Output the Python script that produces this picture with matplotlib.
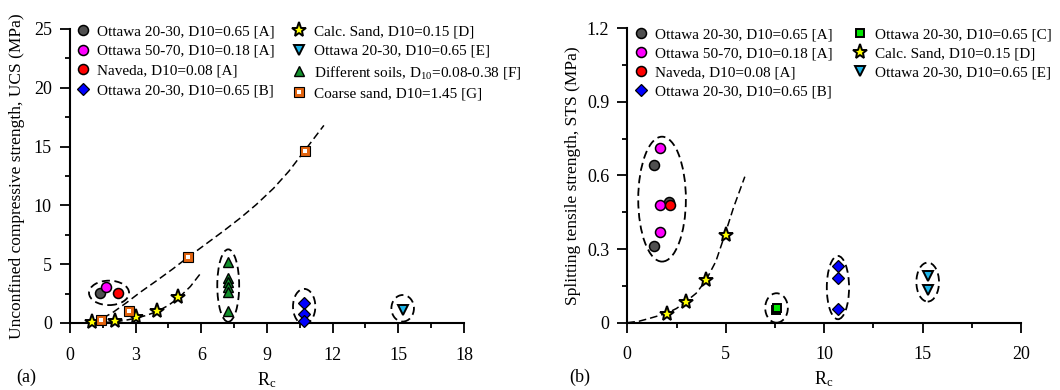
import matplotlib
matplotlib.use("Agg")
import matplotlib.pyplot as plt
import numpy as np
from matplotlib.lines import Line2D
from matplotlib.patches import Ellipse

# ---------------- (a) UCS vs Rc ----------------
a_ott2030_A_rc = [1.37]
a_ott2030_A_ucs = [2.52]
a_ott5070_A_rc = [1.64]
a_ott5070_A_ucs = [3.03]
a_naveda_A_rc = [2.2]
a_naveda_A_ucs = [2.58]
a_ott2030_B_rc = [10.7, 10.7, 10.7]
a_ott2030_B_ucs = [1.73, 0.74, 0.2]
a_calc_D_rc = [0.99, 2.05, 3.0, 3.96, 4.95]
a_calc_D_ucs = [0.05, 0.2, 0.48, 1.0, 2.24]
a_ott2030_E_rc = [15.2]
a_ott2030_E_ucs = [1.1]
a_soils_F_rc = [7.23, 7.23, 7.23, 7.23, 7.23, 7.23]
a_soils_F_ucs = [5.16, 3.85, 3.46, 3.09, 2.66, 1.02]
a_coarse_G_rc = [1.4, 2.71, 5.4, 10.73]
a_coarse_G_ucs = [0.26, 1.02, 5.64, 14.65]

# trend lines
a_trend_D_rc = [1.0, 1.5, 2.0, 2.5, 3.0, 3.5, 4.0, 4.5, 5.0, 5.5, 6.0]
a_trend_D_ucs = [0.0, 0.03, 0.1, 0.22, 0.4, 0.65, 1.0, 1.5, 2.2, 3.1, 4.3]
a_trend_G_rc = [1.5, 2.0, 2.6, 3.2, 4.0, 4.7, 5.4, 6.2, 7.0, 7.8, 8.5, 9.3, 10.0, 10.7, 11.6]
a_trend_G_ucs = [0.4, 0.95, 1.75, 2.6, 3.65, 4.6, 5.6, 6.7, 7.8, 8.95, 10.05, 11.45, 12.9, 14.6, 16.8]

a_xticks = [0, 3, 6, 9, 12, 15, 18]
a_yticks = [0, 5, 10, 15, 20, 25]
a_yticklabels = ["0", "5", "10", "15", "20", "25"]

# ---------------- (b) STS vs Rc ----------------
b_ott2030_A_rc = [1.37, 1.37, 2.14]
b_ott2030_A_sts = [0.643, 0.313, 0.49]
b_ott5070_A_rc = [1.66, 1.66, 1.66]
b_ott5070_A_sts = [0.711, 0.48, 0.371]
b_naveda_A_rc = [2.16]
b_naveda_A_sts = [0.48]
b_ott2030_B_rc = [10.7, 10.7, 10.7]
b_ott2030_B_sts = [0.231, 0.181, 0.055]
b_ott2030_C_rc = [7.57, 7.59]
b_ott2030_C_sts = [0.05, 0.059]
b_calc_D_rc = [2.0, 2.98, 3.99, 5.0]
b_calc_D_sts = [0.035, 0.086, 0.172, 0.357]
b_ott2030_E_rc = [15.26, 15.26]
b_ott2030_E_sts = [0.19, 0.133]

b_trend_D_rc = [0.0, 0.6, 1.15, 2.0, 2.5, 2.98, 3.5, 3.99, 4.5, 4.95, 5.4, 5.97]
b_trend_D_sts = [0.0, 0.006, 0.018, 0.038, 0.058, 0.086, 0.12, 0.172, 0.25, 0.357, 0.47, 0.595]

b_xticks = [0, 5, 10, 15, 20]
b_yticks = [0, 0.3, 0.6, 0.9, 1.2]
b_yticklabels = ["0", "0.3", "0.6", "0.9", "1.2"]

plt.rcParams["font.family"] = ["Liberation Serif", "DejaVu Serif"]
plt.rcParams["mathtext.fontset"] = "custom"
plt.rcParams["mathtext.rm"] = "Liberation Serif"
plt.rcParams["mathtext.it"] = "Liberation Serif:italic"

GRAY = "#4f4f4f"
MAGENTA = "#ff00ff"
RED = "#ff0000"
BLUE = "#0000ff"
YELLOW = "#ffff00"
CYAN = "#1cb4e8"
DGREEN = "#12902c"
ORANGE = "#e2640f"
LGREEN = "#00e600"

STYLES = {
    "A_gray": dict(marker="o", ms=7.2, mfc=GRAY, mec="k", mew=1.1),
    "A_mag": dict(marker="o", ms=7.2, mfc=MAGENTA, mec="k", mew=1.1),
    "A_red": dict(marker="o", ms=7.2, mfc=RED, mec="k", mew=1.1),
    "B": dict(marker="D", ms=5.8, mfc=BLUE, mec="k", mew=0.9),
    "C": dict(marker="s", ms=6.4, mfc=LGREEN, mec="k", mew=1.4),
    "D": dict(marker="*", ms=11, mfc=YELLOW, mec="k", mew=1.4),
    "E": dict(marker="v", ms=7.4, mfc=CYAN, mec="k", mew=1.4),
    "F": dict(marker="^", ms=7.4, mfc=DGREEN, mec="k", mew=1.0),
    "G": dict(marker="s", ms=7.0, mfc=ORANGE, mec="k", mew=0.8),
    "G_in": dict(marker="s", ms=3.0, mfc="white", mec="none", mew=0),
}


def scatter(ax, xs, ys, key):
    ax.plot(xs, ys, ls="none", clip_on=False, zorder=4, **STYLES[key])


def handle(key):
    return Line2D([], [], ls="none", **STYLES[key])


def trend(ax, xs, ys):
    ax.plot(xs, ys, color="k", lw=1.1, ls=(0, (5, 2.6)), zorder=3)


def ring(ax, xs, ys, pad_x, pad_lo, pad_hi):
    x0, x1 = min(xs), max(xs)
    y0, y1 = min(ys) - pad_lo, max(ys) + pad_hi
    e = Ellipse(((x0 + x1) / 2, (y0 + y1) / 2), x1 - x0 + pad_x, y1 - y0,
                fill=False, ec="k", lw=1.3, ls=(0, (4.5, 2.5)), zorder=3,
                clip_on=False)
    ax.add_patch(e)


def style_axes(ax, xticks, yticks, yticklabels):
    for side in ("top", "right"):
        ax.spines[side].set_visible(False)
    for side in ("left", "bottom"):
        ax.spines[side].set_linewidth(1.5)
    ax.set_xlim(xticks[0], xticks[-1])
    ax.set_ylim(yticks[0], yticks[-1])
    ax.set_xticks(xticks)
    ax.set_xticklabels([str(t) for t in xticks])
    ax.set_yticks(yticks)
    ax.set_yticklabels(yticklabels)
    xs, ys = xticks[1] - xticks[0], yticks[1] - yticks[0]
    ax.set_xticks(np.array(xticks[:-1]) + xs / 2, minor=True)
    ax.set_yticks(np.array(yticks[:-1]) + ys / 2, minor=True)
    ax.tick_params(which="major", length=7, width=1.3, labelsize=13)
    ax.tick_params(which="minor", length=3.5, width=1.3)
    ax.tick_params(axis="x", which="major", pad=10)
    ax.tick_params(axis="y", which="major", pad=6)
    ax.set_xlabel("R$_\\mathrm{c}$", fontsize=13)
    ax.xaxis.set_label_coords(0.5, -0.16)


fig = plt.figure(figsize=(10.6, 3.9), dpi=100)
ax_a = fig.add_axes([0.066, 0.1718, 0.3717, 0.754])
ax_b = fig.add_axes([0.5918, 0.1726, 0.3714, 0.755])

# ---- panel (a)
trend(ax_a, a_trend_D_rc, a_trend_D_ucs)
trend(ax_a, a_trend_G_rc, a_trend_G_ucs)
scatter(ax_a, a_ott2030_A_rc, a_ott2030_A_ucs, "A_gray")
scatter(ax_a, a_ott5070_A_rc, a_ott5070_A_ucs, "A_mag")
scatter(ax_a, a_naveda_A_rc, a_naveda_A_ucs, "A_red")
scatter(ax_a, a_ott2030_B_rc, a_ott2030_B_ucs, "B")
scatter(ax_a, a_calc_D_rc, a_calc_D_ucs, "D")
scatter(ax_a, a_ott2030_E_rc, a_ott2030_E_ucs, "E")
scatter(ax_a, a_soils_F_rc, a_soils_F_ucs, "F")
scatter(ax_a, a_coarse_G_rc, a_coarse_G_ucs, "G")
scatter(ax_a, a_coarse_G_rc, a_coarse_G_ucs, "G_in")

ring(ax_a, a_ott2030_A_rc + a_ott5070_A_rc + a_naveda_A_rc,
     a_ott2030_A_ucs + a_ott5070_A_ucs + a_naveda_A_ucs, 1.0, 1.0, 0.57)
ring(ax_a, a_soils_F_rc, a_soils_F_ucs, 1.0, 0.92, 1.1)
ring(ax_a, a_ott2030_B_rc, a_ott2030_B_ucs, 1.02, 0.3, 1.17)
ring(ax_a, a_ott2030_E_rc, a_ott2030_E_ucs, 1.03, 0.98, 1.28)

style_axes(ax_a, a_xticks, a_yticks, a_yticklabels)
ax_a.set_ylabel("Unconfined compressive strength, UCS (MPa)", fontsize=12.5)
ax_a.yaxis.set_label_coords(-0.115, 0.5)

handles_a = [handle("A_gray"), handle("A_mag"), handle("A_red"), handle("B"),
             handle("D"), handle("E"), handle("F"),
             (handle("G"), handle("G_in"))]
labels_a = ["Ottawa 20-30, D10=0.65 [A]", "Ottawa 50-70, D10=0.18 [A]",
            "Naveda, D10=0.08 [A]", "Ottawa 20-30, D10=0.65 [B]",
            "Calc. Sand, D10=0.15 [D]", "Ottawa 20-30, D10=0.65 [E]",
            "Different soils, D$_{10}$=0.08-0.38 [F]", "Coarse sand, D10=1.45 [G]"]
ax_a.legend(handles_a, labels_a, ncol=2, loc="upper left",
            bbox_to_anchor=(0.013, 1.015), frameon=False, fontsize=11,
            borderpad=0, borderaxespad=0, handlelength=1.0, handletextpad=0.45,
            columnspacing=1.1, labelspacing=0.39)

# ---- panel (b)
trend(ax_b, b_trend_D_rc, b_trend_D_sts)
scatter(ax_b, b_ott2030_A_rc, b_ott2030_A_sts, "A_gray")
scatter(ax_b, b_ott5070_A_rc, b_ott5070_A_sts, "A_mag")
scatter(ax_b, b_naveda_A_rc, b_naveda_A_sts, "A_red")
scatter(ax_b, b_ott2030_B_rc, b_ott2030_B_sts, "B")
scatter(ax_b, b_ott2030_C_rc, b_ott2030_C_sts, "C")
scatter(ax_b, b_calc_D_rc, b_calc_D_sts, "D")
scatter(ax_b, b_ott2030_E_rc, b_ott2030_E_sts, "E")

ring(ax_b, b_ott2030_A_rc + b_ott5070_A_rc + b_naveda_A_rc,
     b_ott2030_A_sts + b_ott5070_A_sts + b_naveda_A_sts, 1.63, 0.064, 0.047)
ring(ax_b, b_ott2030_C_rc, b_ott2030_C_sts, 1.13, 0.05, 0.061)
ring(ax_b, b_ott2030_B_rc, b_ott2030_B_sts, 1.13, 0.041, 0.041)
ring(ax_b, b_ott2030_E_rc, b_ott2030_E_sts, 1.15, 0.047, 0.055)

style_axes(ax_b, b_xticks, b_yticks, b_yticklabels)
ax_b.set_ylabel("Splitting tensile strength, STS (MPa)", fontsize=12.5)
ax_b.yaxis.set_label_coords(-0.118, 0.5)

handles_b = [handle("A_gray"), handle("A_mag"), handle("A_red"), handle("B"),
             handle("C"), handle("D"), handle("E")]
labels_b = ["Ottawa 20-30, D10=0.65 [A]", "Ottawa 50-70, D10=0.18 [A]",
            "Naveda, D10=0.08 [A]", "Ottawa 20-30, D10=0.65 [B]",
            "Ottawa 20-30, D10=0.65 [C]", "Calc. Sand, D10=0.15 [D]",
            "Ottawa 20-30, D10=0.65 [E]"]
ax_b.legend(handles_b, labels_b, ncol=2, loc="upper left",
            bbox_to_anchor=(0.015, 1.003), frameon=False, fontsize=11,
            borderpad=0, borderaxespad=0, handlelength=1.0, handletextpad=0.45,
            columnspacing=1.3, labelspacing=0.35)

fig.text(26 / 1060, 1 - 377 / 390, "(a)", ha="center", va="center", fontsize=13)
fig.text(580 / 1060, 1 - 377 / 390, "(b)", ha="center", va="center", fontsize=13)

fig.savefig("out.png", dpi=100)
